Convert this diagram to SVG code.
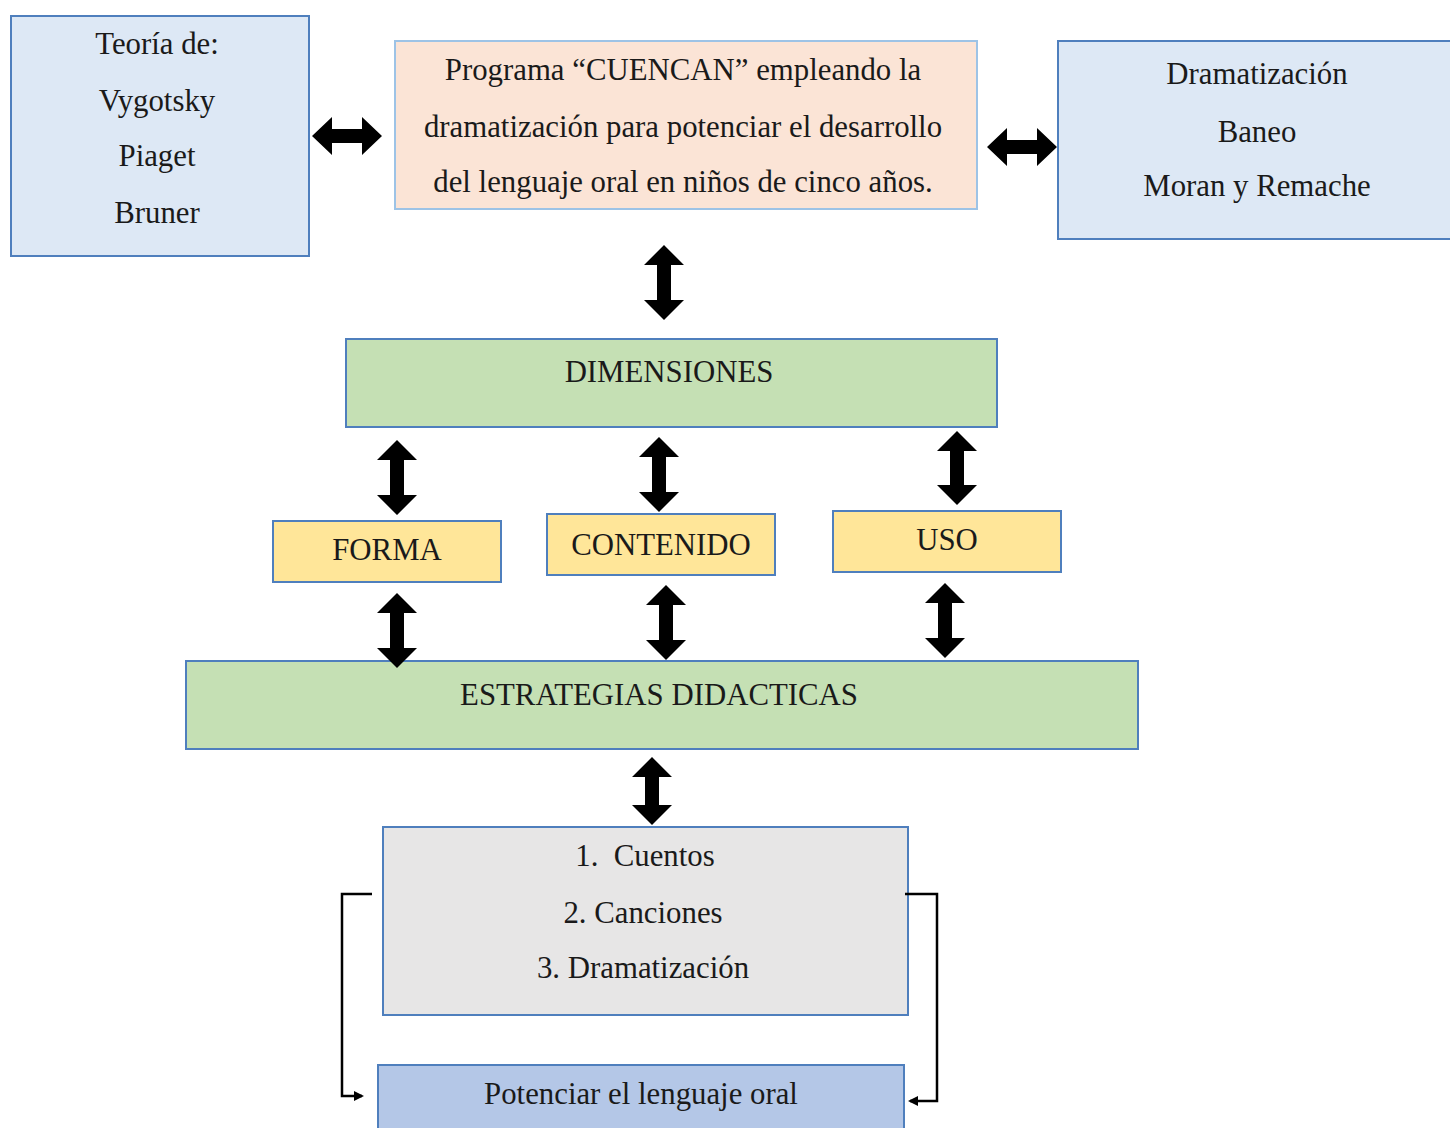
<svg xmlns="http://www.w3.org/2000/svg" width="1450" height="1128" viewBox="0 0 1450 1128">
<style>
text{font-family:"Liberation Serif","Times New Roman",serif;font-size:30.8px;fill:#1a1a1a;text-anchor:middle}
.b{stroke-width:2}
.blue{fill:#dde8f5;stroke:#4f7fbd}
.peach{fill:#fbe4d6;stroke:#9dc3e6}
.green{fill:#c5e0b4;stroke:#4f7fbd}
.yel{fill:#ffe699;stroke:#4f7fbd}
.grey{fill:#e7e6e6;stroke:#4f7fbd}
.dblue{fill:#b4c7e7;stroke:#4f7fbd}
.arr{fill:#000}
.ln{fill:none;stroke:#000;stroke-width:2.5}
</style>
<defs>
<marker id="ah" markerWidth="10" markerHeight="10" refX="8" refY="5" orient="auto" markerUnits="userSpaceOnUse" viewBox="0 0 10 10"><path d="M0,0 L10,5 L0,10 Z" fill="#000"/></marker>
</defs>
<rect width="1450" height="1128" fill="#fff"/>
<g id="teoria"><rect class="blue b" x="11" y="16" width="298" height="240"/>
<text x="157" y="54">Teoría de:</text><text x="157" y="111">Vygotsky</text><text x="157" y="166">Piaget</text><text x="157" y="223">Bruner</text></g>
<g id="programa"><rect class="peach b" x="395" y="41" width="582" height="168"/>
<text x="683" y="80">Programa “CUENCAN” empleando la</text><text x="683" y="137">dramatización para potenciar el desarrollo</text><text x="683" y="192">del lenguaje oral en niños de cinco años.</text></g>
<g id="dramatizacion"><rect class="blue b" x="1058" y="41" width="400" height="198"/>
<text x="1257" y="84">Dramatización</text><text x="1257" y="142">Baneo</text><text x="1257" y="196">Moran y Remache</text></g>
<g id="dimensiones"><rect class="green b" x="346" y="339" width="651" height="88"/><text x="669" y="382">DIMENSIONES</text></g>
<g id="forma"><rect class="yel b" x="273" y="521" width="228" height="61"/><text x="387" y="560">FORMA</text></g>
<g id="contenido"><rect class="yel b" x="547" y="514" width="228" height="61"/><text x="661" y="555">CONTENIDO</text></g>
<g id="uso"><rect class="yel b" x="833" y="511" width="228" height="61"/><text x="947" y="550">USO</text></g>
<g id="estrategias"><rect class="green b" x="186" y="661" width="952" height="88"/><text x="659" y="705">ESTRATEGIAS DIDACTICAS</text></g>
<g id="lista"><rect class="grey b" x="383" y="827" width="525" height="188"/>
<text x="645" y="866">1.&#160;&#160;Cuentos</text><text x="643" y="923">2. Canciones</text><text x="643" y="978">3. Dramatización</text></g>
<g id="potenciar"><rect class="dblue b" x="378" y="1065" width="526" height="75"/><text x="641" y="1104">Potenciar el lenguaje oral</text></g>
<g id="connectors">
<path class="arr" d="M312,136 L332,117 L332,129 L362,129 L362,117 L382,136 L362,155 L362,143 L332,143 L332,155 Z"/>
<path class="arr" d="M987,147 L1007,128 L1007,140 L1037,140 L1037,128 L1057,147 L1037,166 L1037,154 L1007,154 L1007,166 Z"/>
<path class="arr" d="M664,245 L684,265 L671,265 L671,300 L684,300 L664,320 L644,300 L657,300 L657,265 L644,265 Z"/>
<path class="arr" d="M397,440 L417,460 L404,460 L404,495 L417,495 L397,515 L377,495 L390,495 L390,460 L377,460 Z"/>
<path class="arr" d="M659,437 L679,457 L666,457 L666,492 L679,492 L659,512 L639,492 L652,492 L652,457 L639,457 Z"/>
<path class="arr" d="M957,431 L977,451 L964,451 L964,485 L977,485 L957,505 L937,485 L950,485 L950,451 L937,451 Z"/>
<path class="arr" d="M397,593 L417,613 L404,613 L404,648 L417,648 L397,668 L377,648 L390,648 L390,613 L377,613 Z"/>
<path class="arr" d="M666,585 L686,605 L673,605 L673,640 L686,640 L666,660 L646,640 L659,640 L659,605 L646,605 Z"/>
<path class="arr" d="M945,583 L965,603 L952,603 L952,638 L965,638 L945,658 L925,638 L938,638 L938,603 L925,603 Z"/>
<path class="arr" d="M652,757 L672,777 L659,777 L659,805 L672,805 L652,825 L632,805 L645,805 L645,777 L632,777 Z"/>
<path class="ln" d="M372,894 L342,894 L342,1096 L362,1096" marker-end="url(#ah)"/>
<path class="ln" d="M905,894 L937,894 L937,1101 L910,1101" marker-end="url(#ah)"/>
</g>
</svg>
